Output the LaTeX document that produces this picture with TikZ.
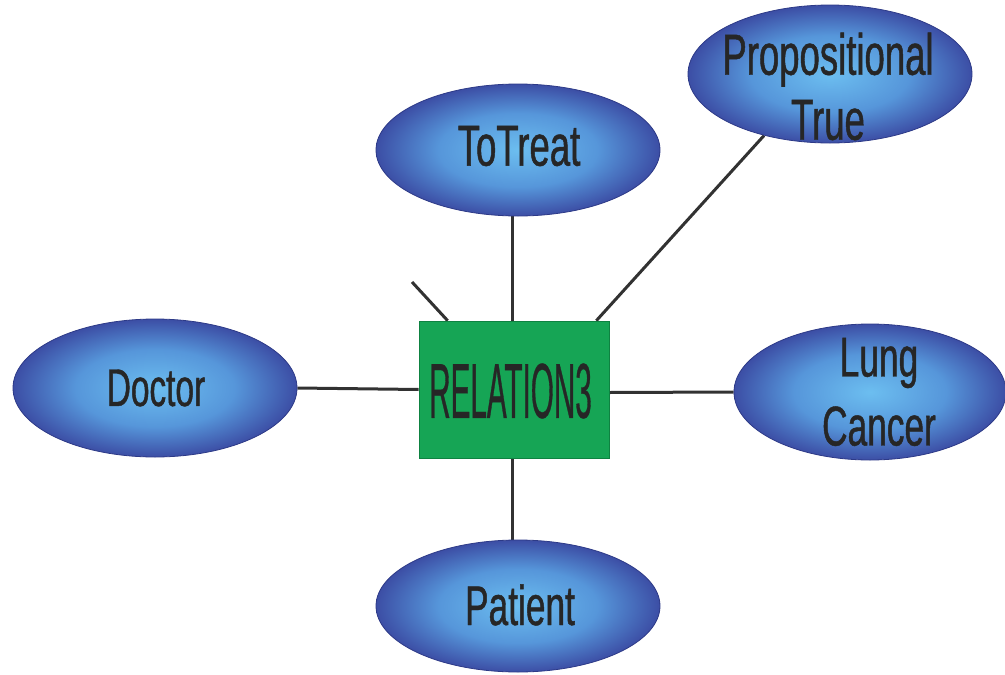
\documentclass[tikz,border=0pt]{standalone}
\usepackage{fontspec}
\setmainfont{Liberation Sans}
\newfontfamily\ellfont[FakeStretch=0.63,FakeBold=0.8]{Liberation Sans}
\newfontfamily\relfont[FakeStretch=0.38,FakeBold=0.4]{Liberation Sans}
\usetikzlibrary{shapes.geometric,backgrounds}
\definecolor{ellin}{RGB}{108,190,240}
\definecolor{ellmid}{RGB}{86,150,218}
\definecolor{ellout}{RGB}{60,78,165}
\definecolor{elledge}{RGB}{45,58,135}
\definecolor{relgreen}{RGB}{22,165,85}
\definecolor{reledge}{RGB}{14,130,65}
\definecolor{ink}{RGB}{38,38,38}
\definecolor{wirecol}{RGB}{50,50,50}
\pgfdeclareradialshading{ellshade}{\pgfpoint{0bp}{0bp}}{color(0bp)=(ellin); color(14bp)=(ellmid); color(25bp)=(ellout); color(50bp)=(ellout)}
\tikzset{
  ell/.style={ellipse, draw=elledge, line width=0.8pt, shading=ellshade, inner sep=0pt},
  etext/.style={text=ink, align=center, inner sep=0pt, font=\ellfont\fontsize{56}{69}\selectfont},
  wire/.style={draw=wirecol, line width=3pt},
  relbox/.style={rectangle, fill=relgreen, draw=reledge, line width=0.6pt, minimum width=190pt, minimum height=137pt, inner sep=0pt}
}
\begin{document}
\begin{tikzpicture}[x=1pt,y=-1pt]
\useasboundingbox (0,0) rectangle (1005,675);
% entity ellipses
\node[ell, minimum width=284pt, minimum height=138pt] (doc) at (155,388) {};
\node[ell, minimum width=284pt, minimum height=132pt] (tt) at (518,150) {};
\node[ell, minimum width=284pt, minimum height=138pt] (prop) at (830,74) {};
\node[ell, minimum width=272pt, minimum height=136pt] (lung) at (870,392) {};
\node[ell, minimum width=284pt, minimum height=132pt] (pat) at (518,606) {};
% relation box
\node[relbox] (rel) at (514,389.5) {};
% texts
\node[etext, font=\ellfont\fontsize{53}{64}\selectfont] (doc-t) at (156,388) {Doctor};
\node[etext, font=\ellfont\fontsize{58}{69}\selectfont] (tt-t) at (519,146) {ToTreat};
\node[etext, font=\ellfont\fontsize{58}{65}\selectfont] (prop-t) at (828,86.5) {Propositional\\True};
\node[etext, font=\ellfont\fontsize{56}{69}\selectfont] (lung-t) at (879,392) {Lung\\Cancer};
\node[etext, font=\ellfont\fontsize{56}{69}\selectfont] (pat-t) at (520,605) {Patient};
\node[etext, font=\relfont\fontsize{78}{90}\selectfont] (rel-t) at (510.5,391) {RELATION3};
% connectors
\coordinate (stub) at (412,282);
\begin{pgfonlayer}{background}
\draw[wire] (rel.west) -- (doc.east);
\draw[wire] ([xshift=-2pt]rel.north) -- ([xshift=-2pt]rel.north |- tt.south);
\draw[wire] ([xshift=-2pt]rel.south) -- ([xshift=-2pt]rel.south |- pat.north);
\draw[wire] ([yshift=-3pt]rel.east) -- (lung.west);
\draw[wire] ([xshift=-13pt]rel.north east) -- (prop.223);
\draw[wire] (stub) -- ([xshift=29pt]rel.north west);
\end{pgfonlayer}
\end{tikzpicture}
\end{document}
